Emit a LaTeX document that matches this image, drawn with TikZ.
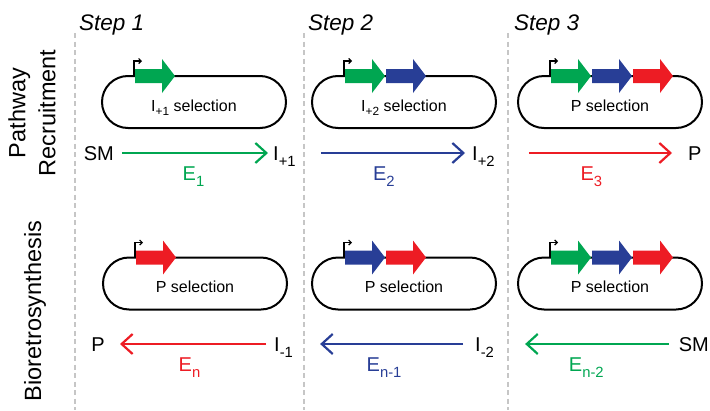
\documentclass[tikz,border=0pt]{standalone}
\usepackage{fontspec}
\setmainfont{Liberation Sans}
\usetikzlibrary{arrows.meta}
\usetikzlibrary{positioning}
\tikzset{pill/.style = {draw, line width=2pt, rounded corners=26pt, minimum width=184pt, minimum height=52pt, outer sep=0pt, inner sep=0pt, text height=18pt, text depth=0pt, font=\fontsize{16}{18}\selectfont}}
\tikzset{chem/.style = {inner sep=0pt, text height=14pt, text depth=0pt, font=\fontsize{20}{24}\selectfont}}
\tikzset{enz/.style = {chem, below=12pt}}
\tikzset{react/.style = {line width=2.2pt, -{Straight Barb[length=11pt, width=20pt]}}}
\tikzset{prom/.style = {line width=1.2pt, -{Straight Barb[length=2.5pt, width=5pt]}}}
\tikzset{steplabel/.style = {inner sep=0pt, anchor=base west, font=\fontsize{22.5}{26}\selectfont\itshape}}
\tikzset{rowlabel/.style = {inner sep=0pt, rotate=90, font=\fontsize{23.5}{30}\selectfont}}
\definecolor{mgreen}{RGB}{0, 166, 81}
\definecolor{mblue}{RGB}{40, 62, 150}
\definecolor{mred}{RGB}{237, 28, 36}
\newcommand{\idx}[1]{\raisebox{-0.3em}{\scalebox{0.74}{#1}}}
\newcommand{\cassette}[2]{%
  \begin{scope}[shift={(#1.north west)}]
    \draw [prom] (32, 0) -- (32, -15) -- (40, -15);
    \foreach \c [count=\i from 0] in {#2}
      \fill [\c, xshift=41*\i] (33, -7) -- (60, -7) -- (60, -17) -- (73, 0) -- (60, 17) -- (60, 7) -- (33, 7) -- cycle;
  \end{scope}}

\begin{document}
\begin{tikzpicture}[x=1pt, y=-1pt]
    \useasboundingbox (0, 0) rectangle (710, 410);
    \foreach \x in {75, 304, 508}
      \draw [gray!45, line width=2pt, dash pattern=on 5pt off 3.5pt] (\x, 33) -- (\x, 410);

    \node [steplabel] (st1) at (79, 30) {Step 1};
    \node [steplabel] (st2) at (308, 30) {Step 2};
    \node [steplabel] (st3) at (514, 30) {Step 3};
    \node [rowlabel, align=center] (rowpr) at (32, 113) {Pathway\\Recruitment};
    \node [rowlabel] (rowbr) at (35, 311) {Bioretrosynthesis};

    \node [pill] (pr1) at (194, 102) {I\idx{+1} selection};
    \node [pill] (pr2) at (404, 102) {I\idx{+2} selection};
    \node [pill] (pr3) at (610, 102) {P selection};
    \node [pill] (br1) at (195, 283.5) {P selection};
    \node [pill] (br2) at (404, 283.5) {P selection};
    \node [pill] (br3) at (610, 283.5) {P selection};
    \cassette{pr1}{mgreen}
    \cassette{pr2}{mgreen, mblue}
    \cassette{pr3}{mgreen, mblue, mred}
    \cassette{br1}{mred}
    \cassette{br2}{mblue, mred}
    \cassette{br3}{mgreen, mblue, mred}

    \node [chem, anchor=east] (sm1) at (114, 153) {SM};
    \node [chem, anchor=west] (ip1) at (273, 153) {I\idx{+1}};
    \node [chem, anchor=west] (ip2) at (472, 153) {I\idx{+2}};
    \node [chem, anchor=west] (p1) at (688, 153) {P};
    \draw [react, mgreen, shorten <=8pt, shorten >=5pt] (sm1) -- node [enz] {E\idx{1}} (ip1);
    \draw [react, mblue, shorten <=25pt, shorten >=7pt] (ip1) -- node [enz] {E\idx{2}} (ip2);
    \draw [react, mred, shorten <=34pt, shorten >=16pt] (ip2) -- node [enz] {E\idx{3}} (p1);

    \node [chem, anchor=east] (p2) at (105, 344) {P};
    \node [chem, anchor=west] (im1) at (274, 344) {I\idx{-1}};
    \node [chem, anchor=west] (im2) at (475, 344) {I\idx{-2}};
    \node [chem, anchor=east] (sm2) at (709, 344) {SM};
    \draw [react, mred, shorten <=8pt, shorten >=15pt] (im1) -- node [enz] {E\idx{n}} (p2);
    \draw [react, mblue, shorten <=12pt, shorten >=27pt] (im2) -- node [enz] {E\idx{n-1}} (im1);
    \draw [react, mgreen, shorten <=10pt, shorten >=31pt] (sm2) -- node [enz] {E\idx{n-2}} (im2);
\end{tikzpicture}
\end{document}
